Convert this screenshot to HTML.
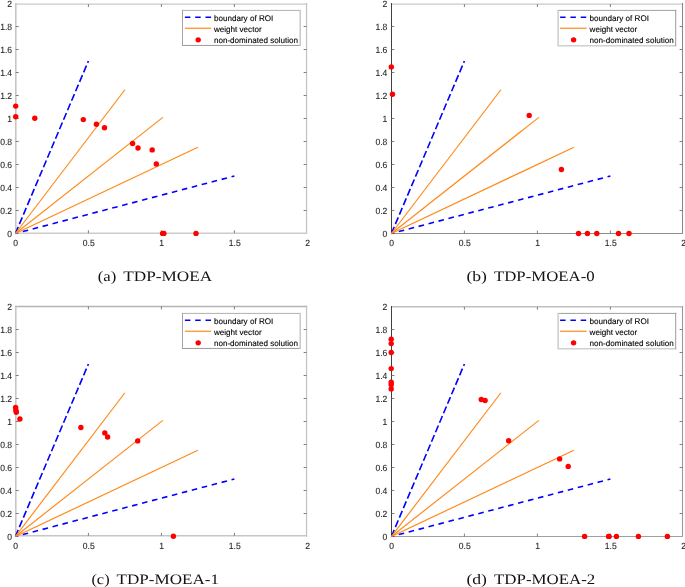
<!DOCTYPE html>
<html><head><meta charset="utf-8"><style>
html,body{margin:0;padding:0;background:#fff;}
body{width:685px;height:587px;overflow:hidden;}
svg{display:block;will-change:transform;}
text{text-rendering:geometricPrecision;}
.tl{stroke:#262626;stroke-width:0.1px;}
</style></head><body>
<svg width="685" height="587" viewBox="0 0 685 587"><g font-family='"Liberation Sans", sans-serif' font-size="9.0" fill="#262626"><path d="M15 4.15H307.2" stroke="#cacaca" stroke-width="1.4"/><path d="M306.55 3V234" stroke="#c4c4c4" stroke-width="1.3"/><path d="M15 233.2H307.2" stroke="#cccccc" stroke-width="1.6"/><path d="M15.8 3V234" stroke="#c6c6c6" stroke-width="1.6"/><path d="M88.4 233.2v-2.9M88.4 4.15v2.9M161.4 233.2v-2.9M161.4 4.15v2.9M234.4 233.2v-2.9M234.4 4.15v2.9M15.8 210.5h2.9M306.55 210.5h-2.9M15.8 187.5h2.9M306.55 187.5h-2.9M15.8 164.5h2.9M306.55 164.5h-2.9M15.8 141.5h2.9M306.55 141.5h-2.9M15.8 118.5h2.9M306.55 118.5h-2.9M15.8 95.5h2.9M306.55 95.5h-2.9M15.8 72.5h2.9M306.55 72.5h-2.9M15.8 49.5h2.9M306.55 49.5h-2.9M15.8 26.5h2.9M306.55 26.5h-2.9" stroke="#707070" stroke-width="0.9" fill="none"/><text transform="translate(15.7 245.9) scale(0.95 1)" text-anchor="middle" class="tl">0</text><text transform="translate(88.7 245.9) scale(0.95 1)" text-anchor="middle" class="tl">0.5</text><text transform="translate(161.7 245.9) scale(0.95 1)" text-anchor="middle" class="tl">1</text><text transform="translate(234.7 245.9) scale(0.95 1)" text-anchor="middle" class="tl">1.5</text><text transform="translate(307.7 245.9) scale(0.95 1)" text-anchor="middle" class="tl">2</text><text transform="translate(12.05 236.8) scale(0.95 1)" text-anchor="end" class="tl">0</text><text transform="translate(12.05 213.8) scale(0.95 1)" text-anchor="end" class="tl">0.2</text><text transform="translate(12.05 190.8) scale(0.95 1)" text-anchor="end" class="tl">0.4</text><text transform="translate(12.05 167.8) scale(0.95 1)" text-anchor="end" class="tl">0.6</text><text transform="translate(12.05 144.8) scale(0.95 1)" text-anchor="end" class="tl">0.8</text><text transform="translate(12.05 121.8) scale(0.95 1)" text-anchor="end" class="tl">1</text><text transform="translate(12.05 98.8) scale(0.95 1)" text-anchor="end" class="tl">1.2</text><text transform="translate(12.05 75.8) scale(0.95 1)" text-anchor="end" class="tl">1.4</text><text transform="translate(12.05 52.8) scale(0.95 1)" text-anchor="end" class="tl">1.6</text><text transform="translate(12.05 29.8) scale(0.95 1)" text-anchor="end" class="tl">1.8</text><text transform="translate(12.05 6.8) scale(0.95 1)" text-anchor="end" class="tl">2</text><path d="M15.4 233.5L88.4 61" stroke="#0000ff" stroke-width="1.6" stroke-dasharray="7.3 3.0" stroke-dashoffset="0.1"/><path d="M15.4 233.5L234.4 176" stroke="#0000ff" stroke-width="1.6" stroke-dasharray="5.6 4.68" stroke-dashoffset="2.7"/><path d="M15.4 233.5L124.9 89.75" stroke="#ff8a1c" stroke-width="1.2"/><path d="M15.4 233.5L162.86 117.35" stroke="#ff8a1c" stroke-width="1.2"/><path d="M15.4 233.5L197.9 147.25" stroke="#ff8a1c" stroke-width="1.2"/><circle cx="15.7" cy="106.1" r="2.7" fill="#ff0000"/><circle cx="15.7" cy="116.7" r="2.7" fill="#ff0000"/><circle cx="34.8" cy="118.2" r="2.7" fill="#ff0000"/><circle cx="83.3" cy="119.6" r="2.7" fill="#ff0000"/><circle cx="96.4" cy="124.3" r="2.7" fill="#ff0000"/><circle cx="104.5" cy="127.8" r="2.7" fill="#ff0000"/><circle cx="132.6" cy="143.5" r="2.7" fill="#ff0000"/><circle cx="138" cy="148" r="2.7" fill="#ff0000"/><circle cx="152.2" cy="149.9" r="2.7" fill="#ff0000"/><circle cx="156.3" cy="163.9" r="2.7" fill="#ff0000"/><circle cx="162.6" cy="233.4" r="2.7" fill="#ff0000"/><circle cx="163.9" cy="233.4" r="2.7" fill="#ff0000"/><circle cx="196" cy="233.4" r="2.7" fill="#ff0000"/><rect x="182.5" y="10.4" width="117.7" height="35.05" fill="#fff"/><path d="M182 10.4H300.7" stroke="#b0b0b0" stroke-width="1.0"/><path d="M182 45.45H300.7" stroke="#999999" stroke-width="1.0"/><path d="M182.5 9.9V45.95" stroke="#a4a4a4" stroke-width="1.0"/><path d="M300.2 9.9V45.95" stroke="#c8c8c8" stroke-width="1.5"/><path d="M184.9 17.2H211.2" stroke="#0000ff" stroke-width="1.6" stroke-dasharray="5.5 4.8"/><path d="M184.9 28.25H211.2" stroke="#ff8a1c" stroke-width="1.2"/><circle cx="198.2" cy="39.85" r="2.7" fill="#ff0000"/><text x="213.9" y="20.7" font-size="8.1" fill="#000" stroke="#000" stroke-width="0.12">boundary of ROI</text><text x="213.9" y="31.7" font-size="8.1" fill="#000" stroke="#000" stroke-width="0.12">weight vector</text><text x="213.9" y="42.7" font-size="8.1" fill="#000" stroke="#000" stroke-width="0.12">non-dominated solution</text></g><g font-family='"Liberation Sans", sans-serif' font-size="9.0" fill="#262626"><path d="M391 4.15H683" stroke="#cacaca" stroke-width="1.4"/><path d="M682.5 3V234" stroke="#8a8a8a" stroke-width="1.1"/><path d="M391 233.5H683" stroke="#8e8e8e" stroke-width="1.0"/><path d="M391.5 3V234" stroke="#404040" stroke-width="1.0"/><path d="M464.4 233.5v-2.9M464.4 4.15v2.9M537.4 233.5v-2.9M537.4 4.15v2.9M610.4 233.5v-2.9M610.4 4.15v2.9M391.5 210.5h2.9M682.5 210.5h-2.9M391.5 187.5h2.9M682.5 187.5h-2.9M391.5 164.5h2.9M682.5 164.5h-2.9M391.5 141.5h2.9M682.5 141.5h-2.9M391.5 118.5h2.9M682.5 118.5h-2.9M391.5 95.5h2.9M682.5 95.5h-2.9M391.5 72.5h2.9M682.5 72.5h-2.9M391.5 49.5h2.9M682.5 49.5h-2.9M391.5 26.5h2.9M682.5 26.5h-2.9" stroke="#707070" stroke-width="0.9" fill="none"/><text transform="translate(391.7 245.9) scale(0.95 1)" text-anchor="middle" class="tl">0</text><text transform="translate(464.7 245.9) scale(0.95 1)" text-anchor="middle" class="tl">0.5</text><text transform="translate(537.7 245.9) scale(0.95 1)" text-anchor="middle" class="tl">1</text><text transform="translate(610.7 245.9) scale(0.95 1)" text-anchor="middle" class="tl">1.5</text><text transform="translate(683.7 245.9) scale(0.95 1)" text-anchor="middle" class="tl">2</text><text transform="translate(387.3 236.8) scale(0.95 1)" text-anchor="end" class="tl">0</text><text transform="translate(387.3 213.8) scale(0.95 1)" text-anchor="end" class="tl">0.2</text><text transform="translate(387.3 190.8) scale(0.95 1)" text-anchor="end" class="tl">0.4</text><text transform="translate(387.3 167.8) scale(0.95 1)" text-anchor="end" class="tl">0.6</text><text transform="translate(387.3 144.8) scale(0.95 1)" text-anchor="end" class="tl">0.8</text><text transform="translate(387.3 121.8) scale(0.95 1)" text-anchor="end" class="tl">1</text><text transform="translate(387.3 98.8) scale(0.95 1)" text-anchor="end" class="tl">1.2</text><text transform="translate(387.3 75.8) scale(0.95 1)" text-anchor="end" class="tl">1.4</text><text transform="translate(387.3 52.8) scale(0.95 1)" text-anchor="end" class="tl">1.6</text><text transform="translate(387.3 29.8) scale(0.95 1)" text-anchor="end" class="tl">1.8</text><text transform="translate(387.3 6.8) scale(0.95 1)" text-anchor="end" class="tl">2</text><path d="M391.4 233.5L464.4 61" stroke="#0000ff" stroke-width="1.6" stroke-dasharray="7.3 3.0" stroke-dashoffset="0.1"/><path d="M391.4 233.5L610.4 176" stroke="#0000ff" stroke-width="1.6" stroke-dasharray="5.6 4.68" stroke-dashoffset="2.7"/><path d="M391.4 233.5L500.9 89.75" stroke="#ff8a1c" stroke-width="1.2"/><path d="M391.4 233.5L538.86 117.35" stroke="#ff8a1c" stroke-width="1.2"/><path d="M391.4 233.5L573.9 147.25" stroke="#ff8a1c" stroke-width="1.2"/><circle cx="391.3" cy="66.9" r="2.7" fill="#ff0000"/><circle cx="392.5" cy="94.3" r="2.7" fill="#ff0000"/><circle cx="529.2" cy="115.4" r="2.7" fill="#ff0000"/><circle cx="561.4" cy="169.5" r="2.7" fill="#ff0000"/><circle cx="578.5" cy="233.5" r="2.7" fill="#ff0000"/><circle cx="587.4" cy="233.5" r="2.7" fill="#ff0000"/><circle cx="596.8" cy="233.5" r="2.7" fill="#ff0000"/><circle cx="618.5" cy="233.5" r="2.7" fill="#ff0000"/><circle cx="629" cy="233.5" r="2.7" fill="#ff0000"/><rect x="558.2" y="10.4" width="117.6" height="35.2" fill="#fff"/><path d="M557.7 10.4H676.3" stroke="#a0a0a0" stroke-width="1.0"/><path d="M557.7 45.7H676.3" stroke="#d0d0d0" stroke-width="1.6"/><path d="M558.1 9.9V46.1" stroke="#d0d0d0" stroke-width="1.6"/><path d="M675.7 9.9V46.1" stroke="#999999" stroke-width="1.0"/><path d="M560.1 17.2H586.6" stroke="#0000ff" stroke-width="1.6" stroke-dasharray="5.5 4.8"/><path d="M560.1 28.25H586.6" stroke="#ff8a1c" stroke-width="1.2"/><circle cx="573.6" cy="39.85" r="2.7" fill="#ff0000"/><text x="589.6" y="20.7" font-size="8.1" fill="#000" stroke="#000" stroke-width="0.12">boundary of ROI</text><text x="589.6" y="31.7" font-size="8.1" fill="#000" stroke="#000" stroke-width="0.12">weight vector</text><text x="589.6" y="42.7" font-size="8.1" fill="#000" stroke="#000" stroke-width="0.12">non-dominated solution</text></g><g font-family='"Liberation Sans", sans-serif' font-size="9.0" fill="#262626"><path d="M15 306.5H307.2" stroke="#b4b4b4" stroke-width="1.4"/><path d="M306.55 305.8V536.6" stroke="#c4c4c4" stroke-width="1.3"/><path d="M15 535.8H307.2" stroke="#c6c6c6" stroke-width="1.6"/><path d="M15.8 305.8V536.6" stroke="#c6c6c6" stroke-width="1.6"/><path d="M88.4 535.8v-2.9M88.4 306.5v2.9M161.4 535.8v-2.9M161.4 306.5v2.9M234.4 535.8v-2.9M234.4 306.5v2.9M15.8 513.5h2.9M306.55 513.5h-2.9M15.8 490.5h2.9M306.55 490.5h-2.9M15.8 467.5h2.9M306.55 467.5h-2.9M15.8 444.5h2.9M306.55 444.5h-2.9M15.8 421.5h2.9M306.55 421.5h-2.9M15.8 398.5h2.9M306.55 398.5h-2.9M15.8 375.5h2.9M306.55 375.5h-2.9M15.8 352.5h2.9M306.55 352.5h-2.9M15.8 329.5h2.9M306.55 329.5h-2.9" stroke="#707070" stroke-width="0.9" fill="none"/><text transform="translate(15.7 548.9) scale(0.95 1)" text-anchor="middle" class="tl">0</text><text transform="translate(88.7 548.9) scale(0.95 1)" text-anchor="middle" class="tl">0.5</text><text transform="translate(161.7 548.9) scale(0.95 1)" text-anchor="middle" class="tl">1</text><text transform="translate(234.7 548.9) scale(0.95 1)" text-anchor="middle" class="tl">1.5</text><text transform="translate(307.7 548.9) scale(0.95 1)" text-anchor="middle" class="tl">2</text><text transform="translate(12.05 539.8) scale(0.95 1)" text-anchor="end" class="tl">0</text><text transform="translate(12.05 516.8) scale(0.95 1)" text-anchor="end" class="tl">0.2</text><text transform="translate(12.05 493.8) scale(0.95 1)" text-anchor="end" class="tl">0.4</text><text transform="translate(12.05 470.8) scale(0.95 1)" text-anchor="end" class="tl">0.6</text><text transform="translate(12.05 447.8) scale(0.95 1)" text-anchor="end" class="tl">0.8</text><text transform="translate(12.05 424.8) scale(0.95 1)" text-anchor="end" class="tl">1</text><text transform="translate(12.05 401.8) scale(0.95 1)" text-anchor="end" class="tl">1.2</text><text transform="translate(12.05 378.8) scale(0.95 1)" text-anchor="end" class="tl">1.4</text><text transform="translate(12.05 355.8) scale(0.95 1)" text-anchor="end" class="tl">1.6</text><text transform="translate(12.05 332.8) scale(0.95 1)" text-anchor="end" class="tl">1.8</text><text transform="translate(12.05 309.8) scale(0.95 1)" text-anchor="end" class="tl">2</text><path d="M15.4 536.5L88.4 364" stroke="#0000ff" stroke-width="1.6" stroke-dasharray="7.3 3.0" stroke-dashoffset="0.1"/><path d="M15.4 536.5L234.4 479" stroke="#0000ff" stroke-width="1.6" stroke-dasharray="5.6 4.68" stroke-dashoffset="2.7"/><path d="M15.4 536.5L124.9 392.75" stroke="#ff8a1c" stroke-width="1.2"/><path d="M15.4 536.5L162.86 420.35" stroke="#ff8a1c" stroke-width="1.2"/><path d="M15.4 536.5L197.9 450.25" stroke="#ff8a1c" stroke-width="1.2"/><circle cx="15.6" cy="407.5" r="2.7" fill="#ff0000"/><circle cx="15.9" cy="410.2" r="2.7" fill="#ff0000"/><circle cx="16.3" cy="412.3" r="2.7" fill="#ff0000"/><circle cx="19.9" cy="419" r="2.7" fill="#ff0000"/><circle cx="80.9" cy="427.5" r="2.7" fill="#ff0000"/><circle cx="104.8" cy="432.9" r="2.7" fill="#ff0000"/><circle cx="107.6" cy="437" r="2.7" fill="#ff0000"/><circle cx="137.7" cy="440.9" r="2.7" fill="#ff0000"/><circle cx="173.4" cy="536.3" r="2.7" fill="#ff0000"/><rect x="182.5" y="313.4" width="117.7" height="35.05" fill="#fff"/><path d="M182 313.4H300.7" stroke="#b0b0b0" stroke-width="1.0"/><path d="M182 348.45H300.7" stroke="#999999" stroke-width="1.0"/><path d="M182.5 312.9V348.95" stroke="#a4a4a4" stroke-width="1.0"/><path d="M300.2 312.9V348.95" stroke="#c8c8c8" stroke-width="1.5"/><path d="M184.9 320.2H211.2" stroke="#0000ff" stroke-width="1.6" stroke-dasharray="5.5 4.8"/><path d="M184.9 331.25H211.2" stroke="#ff8a1c" stroke-width="1.2"/><circle cx="198.2" cy="342.85" r="2.7" fill="#ff0000"/><text x="213.9" y="323.7" font-size="8.1" fill="#000" stroke="#000" stroke-width="0.12">boundary of ROI</text><text x="213.9" y="334.7" font-size="8.1" fill="#000" stroke="#000" stroke-width="0.12">weight vector</text><text x="213.9" y="345.7" font-size="8.1" fill="#000" stroke="#000" stroke-width="0.12">non-dominated solution</text></g><g font-family='"Liberation Sans", sans-serif' font-size="9.0" fill="#262626"><path d="M391 306.8H683" stroke="#c0c0c0" stroke-width="1.5"/><path d="M682.5 306V537" stroke="#9a9a9a" stroke-width="1.1"/><path d="M391 536.5H683" stroke="#a0a0a0" stroke-width="1.1"/><path d="M391.5 306V537" stroke="#404040" stroke-width="1.0"/><path d="M464.4 536.5v-2.9M464.4 306.8v2.9M537.4 536.5v-2.9M537.4 306.8v2.9M610.4 536.5v-2.9M610.4 306.8v2.9M391.5 513.5h2.9M682.5 513.5h-2.9M391.5 490.5h2.9M682.5 490.5h-2.9M391.5 467.5h2.9M682.5 467.5h-2.9M391.5 444.5h2.9M682.5 444.5h-2.9M391.5 421.5h2.9M682.5 421.5h-2.9M391.5 398.5h2.9M682.5 398.5h-2.9M391.5 375.5h2.9M682.5 375.5h-2.9M391.5 352.5h2.9M682.5 352.5h-2.9M391.5 329.5h2.9M682.5 329.5h-2.9" stroke="#707070" stroke-width="0.9" fill="none"/><text transform="translate(391.7 548.9) scale(0.95 1)" text-anchor="middle" class="tl">0</text><text transform="translate(464.7 548.9) scale(0.95 1)" text-anchor="middle" class="tl">0.5</text><text transform="translate(537.7 548.9) scale(0.95 1)" text-anchor="middle" class="tl">1</text><text transform="translate(610.7 548.9) scale(0.95 1)" text-anchor="middle" class="tl">1.5</text><text transform="translate(683.7 548.9) scale(0.95 1)" text-anchor="middle" class="tl">2</text><text transform="translate(387.3 539.8) scale(0.95 1)" text-anchor="end" class="tl">0</text><text transform="translate(387.3 516.8) scale(0.95 1)" text-anchor="end" class="tl">0.2</text><text transform="translate(387.3 493.8) scale(0.95 1)" text-anchor="end" class="tl">0.4</text><text transform="translate(387.3 470.8) scale(0.95 1)" text-anchor="end" class="tl">0.6</text><text transform="translate(387.3 447.8) scale(0.95 1)" text-anchor="end" class="tl">0.8</text><text transform="translate(387.3 424.8) scale(0.95 1)" text-anchor="end" class="tl">1</text><text transform="translate(387.3 401.8) scale(0.95 1)" text-anchor="end" class="tl">1.2</text><text transform="translate(387.3 378.8) scale(0.95 1)" text-anchor="end" class="tl">1.4</text><text transform="translate(387.3 355.8) scale(0.95 1)" text-anchor="end" class="tl">1.6</text><text transform="translate(387.3 332.8) scale(0.95 1)" text-anchor="end" class="tl">1.8</text><text transform="translate(387.3 309.8) scale(0.95 1)" text-anchor="end" class="tl">2</text><path d="M391.4 536.5L464.4 364" stroke="#0000ff" stroke-width="1.6" stroke-dasharray="7.3 3.0" stroke-dashoffset="0.1"/><path d="M391.4 536.5L610.4 479" stroke="#0000ff" stroke-width="1.6" stroke-dasharray="5.6 4.68" stroke-dashoffset="2.7"/><path d="M391.4 536.5L500.9 392.75" stroke="#ff8a1c" stroke-width="1.2"/><path d="M391.4 536.5L538.86 420.35" stroke="#ff8a1c" stroke-width="1.2"/><path d="M391.4 536.5L573.9 450.25" stroke="#ff8a1c" stroke-width="1.2"/><circle cx="391.2" cy="339.2" r="2.7" fill="#ff0000"/><circle cx="391.2" cy="343.6" r="2.7" fill="#ff0000"/><circle cx="391.2" cy="352.5" r="2.7" fill="#ff0000"/><circle cx="391.2" cy="368.6" r="2.7" fill="#ff0000"/><circle cx="391.2" cy="382.2" r="2.7" fill="#ff0000"/><circle cx="391.2" cy="384.8" r="2.7" fill="#ff0000"/><circle cx="391.2" cy="388.9" r="2.7" fill="#ff0000"/><circle cx="481.25" cy="399.5" r="2.7" fill="#ff0000"/><circle cx="485.1" cy="400.5" r="2.7" fill="#ff0000"/><circle cx="508.65" cy="440.8" r="2.7" fill="#ff0000"/><circle cx="559.65" cy="458.9" r="2.7" fill="#ff0000"/><circle cx="568.2" cy="466.4" r="2.7" fill="#ff0000"/><circle cx="584.6" cy="536.4" r="2.7" fill="#ff0000"/><circle cx="608.6" cy="536.4" r="2.7" fill="#ff0000"/><circle cx="609.1" cy="536.4" r="2.7" fill="#ff0000"/><circle cx="616.4" cy="536.4" r="2.7" fill="#ff0000"/><circle cx="638.4" cy="536.4" r="2.7" fill="#ff0000"/><circle cx="667.4" cy="536.4" r="2.7" fill="#ff0000"/><rect x="558.2" y="313.4" width="117.6" height="35.2" fill="#fff"/><path d="M557.7 313.4H676.3" stroke="#a0a0a0" stroke-width="1.0"/><path d="M557.7 348.7H676.3" stroke="#d0d0d0" stroke-width="1.6"/><path d="M558.1 312.9V349.1" stroke="#d0d0d0" stroke-width="1.6"/><path d="M675.7 312.9V349.1" stroke="#999999" stroke-width="1.0"/><path d="M560.1 320.2H586.6" stroke="#0000ff" stroke-width="1.6" stroke-dasharray="5.5 4.8"/><path d="M560.1 331.25H586.6" stroke="#ff8a1c" stroke-width="1.2"/><circle cx="573.6" cy="342.85" r="2.7" fill="#ff0000"/><text x="589.6" y="323.7" font-size="8.1" fill="#000" stroke="#000" stroke-width="0.12">boundary of ROI</text><text x="589.6" y="334.7" font-size="8.1" fill="#000" stroke="#000" stroke-width="0.12">weight vector</text><text x="589.6" y="345.7" font-size="8.1" fill="#000" stroke="#000" stroke-width="0.12">non-dominated solution</text></g><text x="97.8" y="281" font-family='"Liberation Serif", serif' font-size="14.5" fill="#111" textLength="18.5" lengthAdjust="spacingAndGlyphs">(a)</text><text x="123.3" y="281" font-family='"Liberation Serif", serif' font-size="14.5" fill="#111" textLength="88.9" lengthAdjust="spacingAndGlyphs">TDP-MOEA</text><text x="466.4" y="281.2" font-family='"Liberation Serif", serif' font-size="14.5" fill="#111" textLength="20.6" lengthAdjust="spacingAndGlyphs">(b)</text><text x="494" y="281.2" font-family='"Liberation Serif", serif' font-size="14.5" fill="#111" textLength="100.6" lengthAdjust="spacingAndGlyphs">TDP-MOEA-0</text><text x="91.4" y="583.6" font-family='"Liberation Serif", serif' font-size="14.5" fill="#111" textLength="18.2" lengthAdjust="spacingAndGlyphs">(c)</text><text x="116.6" y="583.6" font-family='"Liberation Serif", serif' font-size="14.5" fill="#111" textLength="102.4" lengthAdjust="spacingAndGlyphs">TDP-MOEA-1</text><text x="466.4" y="583.6" font-family='"Liberation Serif", serif' font-size="14.5" fill="#111" textLength="20.6" lengthAdjust="spacingAndGlyphs">(d)</text><text x="494" y="583.6" font-family='"Liberation Serif", serif' font-size="14.5" fill="#111" textLength="101.3" lengthAdjust="spacingAndGlyphs">TDP-MOEA-2</text></svg>
</body></html>
